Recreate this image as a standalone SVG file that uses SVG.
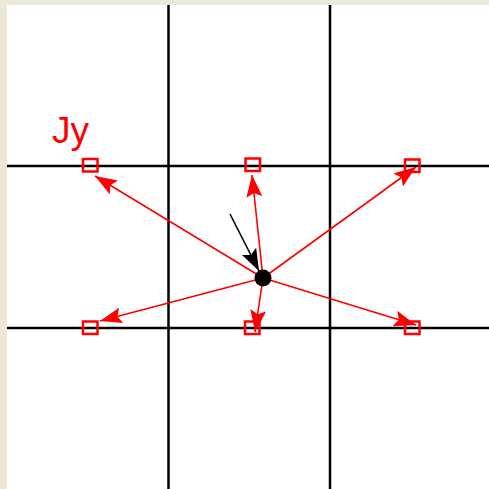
<svg xmlns="http://www.w3.org/2000/svg" width="489" height="489" viewBox="0 0 489 489">
<defs>
<style>
.grid{stroke:#000;stroke-width:2.5;fill:none}
.vec{stroke:#f00;stroke-width:1.6;fill:none;marker-end:url(#ar)}
.node{fill:none;stroke:#f00;stroke-width:2.5}
</style>
<marker id="ar" viewBox="0 0 22 16" refX="22" refY="8" markerWidth="22" markerHeight="16" markerUnits="userSpaceOnUse" orient="auto">
<path d="M0,0 L22,8 L0,16 L4,8 Z" fill="#f00"/>
</marker>
<marker id="ak" viewBox="0 0 22 16" refX="22" refY="8" markerWidth="22" markerHeight="16" markerUnits="userSpaceOnUse" orient="auto">
<path d="M0,0 L22,8 L0,16 L4,8 Z" fill="#000"/>
</marker>
</defs>
<rect x="0" y="0" width="489" height="489" fill="#ECE9D8"/>
<rect x="7" y="5" width="482" height="484" fill="#fff"/>
<g id="grid">
<line class="grid" x1="168.5" y1="5" x2="168.5" y2="489"/>
<line class="grid" x1="330" y1="5" x2="330" y2="489"/>
<line class="grid" x1="7" y1="166" x2="489" y2="166"/>
<line class="grid" x1="7" y1="328" x2="489" y2="328"/>
</g>
<g id="connectors">
<line class="vec" x1="263" y1="278" x2="95" y2="176"/>
<line class="vec" x1="263" y1="278" x2="252" y2="175"/>
<line class="vec" x1="263" y1="278" x2="416" y2="167"/>
<line class="vec" x1="263" y1="278" x2="100" y2="321"/>
<line class="vec" x1="263" y1="278" x2="255" y2="332"/>
<line class="vec" x1="263" y1="278" x2="416" y2="325"/>
<line x1="230" y1="214" x2="259" y2="271" stroke="#000" stroke-width="1.6" marker-end="url(#ak)"/>
</g>
<g id="n1"><rect class="node" x="83" y="159" width="14.5" height="12.5"/></g>
<g id="n2"><rect class="node" x="245.5" y="158.5" width="14.5" height="12.5"/></g>
<g id="n3"><rect class="node" x="405" y="159.5" width="14.5" height="12.5"/></g>
<g id="n4"><rect class="node" x="83" y="321.5" width="14.5" height="12.5"/></g>
<g id="n5"><rect class="node" x="245" y="321.5" width="14.5" height="12.5"/></g>
<g id="n6"><rect class="node" x="405" y="321.5" width="14.5" height="12.5"/></g>
<g id="center"><circle cx="263" cy="278" r="8.5" fill="#000"/></g>
<text x="52" y="143" font-family="Liberation Sans, Arial, sans-serif" font-size="37" fill="#f00">Jy</text>
</svg>
